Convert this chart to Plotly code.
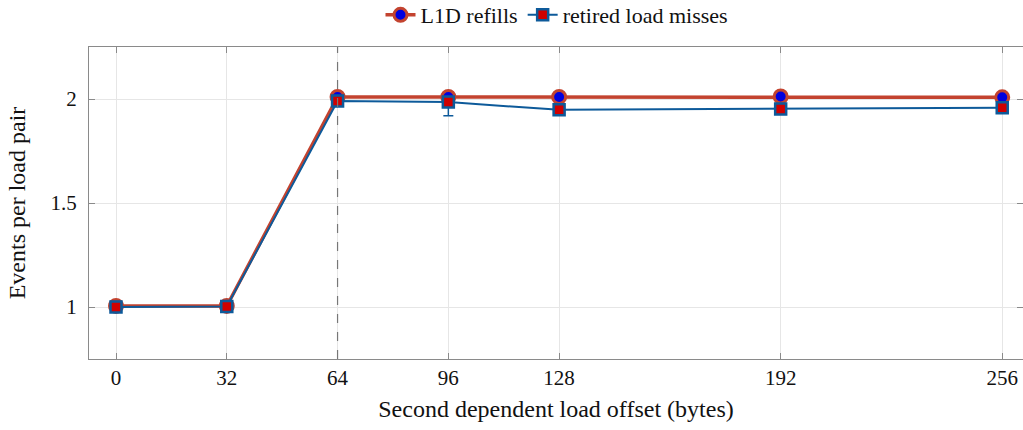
import plotly.graph_objects as go

offsets = [0, 32, 64, 96, 128, 192, 256]
l1d_refills = [1.005, 1.005, 2.010, 2.010, 2.010, 2.012, 2.008]
retired_misses = [1.000, 1.002, 1.990, 1.985, 1.948, 1.952, 1.958]
retired_err_minus = [0, 0, 0, 0.065, 0, 0, 0]
retired_err_plus = [0, 0, 0, 0, 0, 0, 0]
x_ticks = [0, 32, 64, 96, 128, 192, 256]
y_ticks = [1, 1.5, 2]
y_tick_text = ["1", "1.5", "2"]

RED = "#c3432f"
BLUE = "#0d5a9a"
FONT = "Liberation Serif"

W, H = 1023, 430

fig = go.Figure()
fig.add_trace(go.Scatter(
    x=offsets, y=l1d_refills, name="L1D refills", mode="lines+markers",
    line=dict(color=RED, width=3.5),
    marker=dict(symbol="circle", size=13, color="#0000e0", line=dict(color=RED, width=3)),
))
fig.add_trace(go.Scatter(
    x=offsets, y=retired_misses, name="retired load misses", mode="lines+markers",
    line=dict(color=BLUE, width=2),
    marker=dict(symbol="square", size=11, color="#d00000", line=dict(color=BLUE, width=2.5)),
    error_y=dict(type="data", symmetric=False, array=retired_err_plus,
                 arrayminus=retired_err_minus, color=BLUE, thickness=1.5, width=5),
))

fig.add_vline(x=64, line=dict(color="#777777", width=1.2, dash="dash"))

axis_common = dict(
    showline=True, linecolor="#8a8a8a", linewidth=1.2, mirror="ticks",
    ticks="inside", ticklen=6, tickcolor="#8a8a8a", tickwidth=1,
    showgrid=True, gridcolor="#e6e6e6", gridwidth=1, zeroline=False,
    automargin=False,
    tickfont=dict(family=FONT, size=21, color="#111111"),
)

fig.update_layout(
    width=W, height=H,
    margin=dict(l=89, r=0, t=47, b=71),
    paper_bgcolor="white", plot_bgcolor="white",
    font=dict(family=FONT, size=20, color="#111111"),
    showlegend=True,
    legend=dict(orientation="h", x=557 / W, xanchor="center", xref="container",
                y=1 - 15 / H, yanchor="middle", yref="container",
                font=dict(family=FONT, size=22), traceorder="normal",
                bgcolor="rgba(0,0,0,0)"),
    xaxis=dict(range=[-7.8, 262], tickvals=x_ticks,
               title=dict(text="Second dependent load offset (bytes)", font=dict(family=FONT, size=24), standoff=10),
               **axis_common),
    yaxis=dict(range=[0.75, 2.25], tickvals=y_ticks, ticktext=y_tick_text,
               ticklabelstandoff=7,
               title=dict(text="Events per load pair", font=dict(family=FONT, size=24), standoff=18),
               **axis_common),
)

fig.write_html("out.html", config={"displayModeBar": False},
               post_script="document.body.style.margin = '0px';")
